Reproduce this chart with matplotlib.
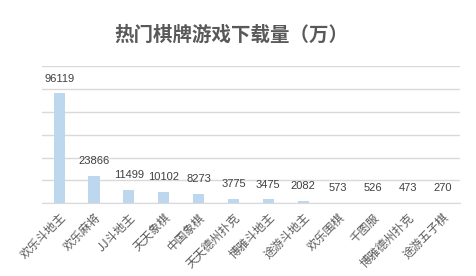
import matplotlib
matplotlib.use("Agg")
import matplotlib.pyplot as plt

plt.rcParams['font.family'] = ['Noto Sans CJK SC', 'DejaVu Sans']

# 下载量（万）
games = ['欢乐斗地主', '欢乐麻将', 'JJ斗地主', '天天象棋', '中国象棋', '天天德州扑克',
         '博雅斗地主', '途游斗地主', '欢乐围棋', '千图服', '博雅德州扑克', '途游五子棋']
downloads = [96119, 23866, 11499, 10102, 8273, 3775, 3475, 2082, 573, 526, 473, 270]

fig = plt.figure(figsize=(4.76, 2.76), dpi=100)
ax = fig.add_axes([0.0876, 0.2634, 0.8788, 0.4975])

x = range(len(games))
bars = ax.bar(x, downloads, width=0.32, color='#bdd7ee', zorder=3)
ax.bar_label(bars, labels=[str(v) for v in downloads], padding=7,
             fontsize=8, color='#404040', family='Liberation Sans')

ax.set_xlim(-0.5, len(games) - 0.5)
ax.set_ylim(0, 120000)
ax.set_yticks(range(0, 120001, 20000))
ax.yaxis.grid(True, color='#d9d9d9', linewidth=1)
ax.tick_params(left=False, labelleft=False, bottom=False, pad=2)
for s in ['top', 'right', 'left']:
    ax.spines[s].set_visible(False)
ax.spines['bottom'].set_color('#d9d9d9')

ax.set_xticks(list(x))
ax.set_xticklabels(games, rotation=45, ha='right', rotation_mode='anchor',
                   fontsize=8.5, color='#595959')

fig.text(0.487, 0.873, '热门棋牌游戏下载量（万）', ha='center', va='center',
         fontsize=14, fontweight='bold', color='#595959')

fig.savefig('out.png', dpi=100)
